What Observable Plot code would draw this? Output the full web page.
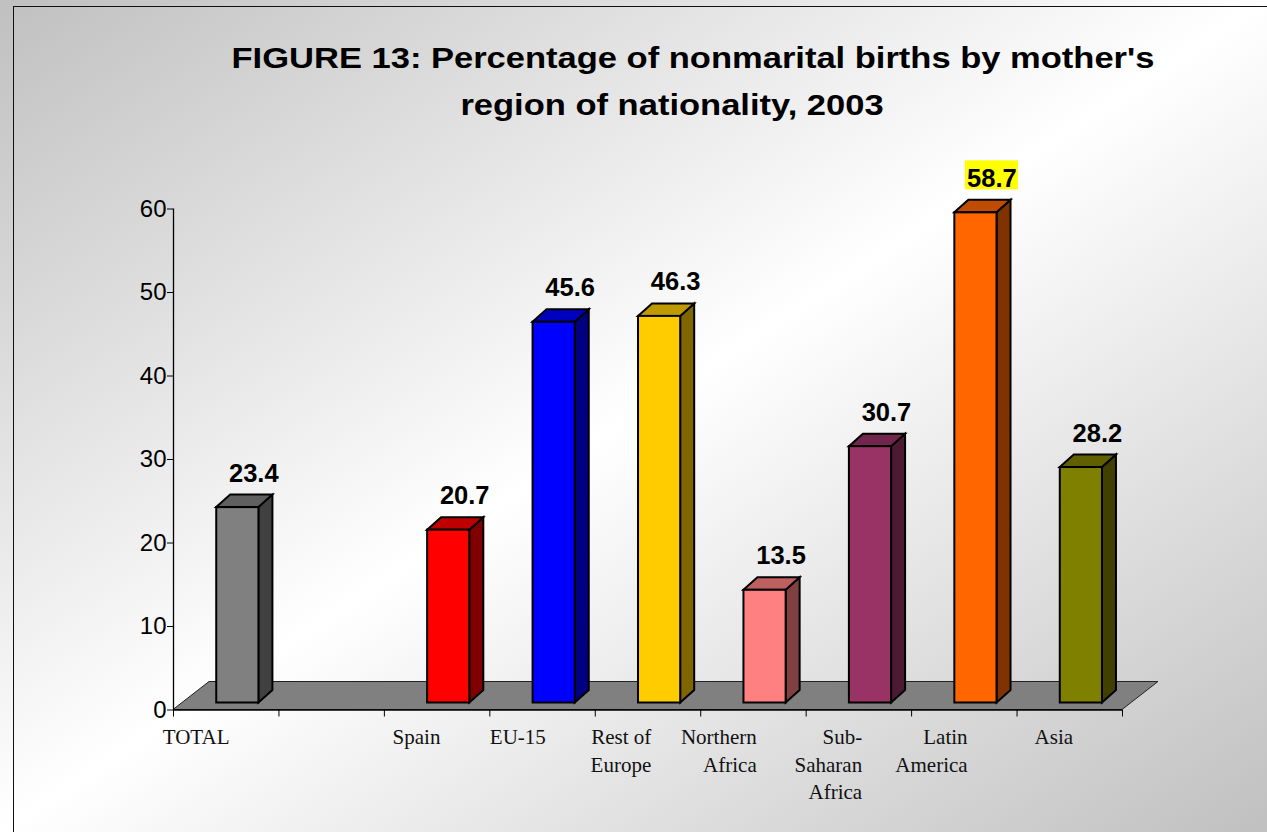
<!DOCTYPE html>
<html><head><meta charset="utf-8">
<script src="https://cdn.jsdelivr.net/npm/d3@7"></script>
<script src="https://cdn.jsdelivr.net/npm/@observablehq/plot@0.6"></script>
<style>
html,body{margin:0;padding:0;}
#wrap{position:relative;width:1267px;height:832px;overflow:hidden;background:linear-gradient(to bottom right,#c0c0c0 0%,#ffffff 50%,#c0c0c0 100%);}
#frame{position:absolute;left:13px;top:6px;width:1270px;height:840px;border:1.5px solid #111;box-sizing:border-box;}
.title{position:absolute;font-family:"Liberation Sans",Arial,sans-serif;font-weight:bold;font-size:29px;line-height:29px;white-space:nowrap;color:#000;transform-origin:50% 50%;transform:translateX(-50%) scaleX(1.19);}
#chart{position:absolute;left:0;top:0;}
</style></head><body>
<div id="wrap">
  <div id="frame"></div>
  <div class="title" id="t1" style="left:693px;top:43.5px"></div>
  <div class="title" id="t2" style="left:672px;top:91px"></div>
  <div id="chart"></div>
</div>
<script>
// ---- data ----
const titleLines = ["FIGURE 13: Percentage of nonmarital births by mother's", "region of nationality, 2003"];
const categories = ["TOTAL", "", "Spain", "EU-15", "Rest of\nEurope", "Northern\nAfrica", "Sub-\nSaharan\nAfrica", "Latin\nAmerica", "Asia"];
const values = [23.4, null, 20.7, 45.6, 46.3, 13.5, 30.7, 58.7, 28.2];
const barColors = ["#808080", null, "#ff0000", "#0000ff", "#ffcc00", "#ff8080", "#993366", "#ff6600", "#808000"];
const yTicks = [0, 10, 20, 30, 40, 50, 60];
const highlighted = ["Latin\nAmerica"];

document.getElementById("t1").textContent = titleLines[0];
document.getElementById("t2").textContent = titleLines[1];

const rows = categories.map((label, i) => ({i, label, value: values[i], color: barColors[i]}));
const bars = rows.filter(d => d.value != null);

// ---- 3D styling constants ----
const FACE_L = 0.41, FACE_R = 0.81; // front face within each category slot
const LIFT = 7;                      // px, bars stand slightly back on the floor
const DEPTH = [14, -12.5];           // px, bar depth projection
const FLOOR = [36, -28];             // px, floor depth projection
const LABEL_DX = 16, LABEL_DY = -33;
const shade = (c, k) => d3.interpolateRgb(c, "#000")(k);
const fmt = d3.format(".1f");

function floorMark(index, {x, y}) {
  const x0 = x(0), x1 = x(categories.length), y0 = y(0);
  const pts = [[x0, y0], [x1, y0], [x1 + FLOOR[0], y0 + FLOOR[1]], [x0 + FLOOR[0], y0 + FLOOR[1]]];
  const g = d3.create("svg:g");
  g.append("polygon").attr("points", pts.join(" "))
    .attr("fill", "#808080").attr("stroke", "#222").attr("stroke-width", 1);
  return g.node();
}

function sideTopMark(index, {x, y}) {
  const g = d3.create("svg:g");
  const [dx, dy] = DEPTH;
  for (const d of bars) {
    const xl = x(d.i + FACE_L), xr = x(d.i + FACE_R);
    const yb = y(0) - LIFT, yt = y(d.value) - LIFT;
    g.append("polygon")
      .attr("points", [[xr, yb], [xr + dx, yb + dy], [xr + dx, yt + dy], [xr, yt]].join(" "))
      .attr("fill", shade(d.color, 0.5)).attr("stroke", "#000").attr("stroke-width", 2);
    g.append("polygon")
      .attr("points", [[xl, yt], [xl + dx, yt + dy], [xr + dx, yt + dy], [xr, yt]].join(" "))
      .attr("fill", shade(d.color, 0.25)).attr("stroke", "#000").attr("stroke-width", 2);
  }
  return g.node();
}

function highlightMark(index, {x, y}) {
  const g = d3.create("svg:g");
  for (const d of bars.filter(b => highlighted.includes(b.label))) {
    const cx = x(d.i + (FACE_L + FACE_R) / 2) + LABEL_DX;
    const by = y(d.value) + LABEL_DY;
    g.append("rect").attr("x", cx - 26.5).attr("y", by - 26).attr("width", 53).attr("height", 29).attr("fill", "#ffff00");
  }
  return g.node();
}

const chart = Plot.plot({
  width: 1267,
  height: 832,
  marginLeft: 173,
  marginRight: 145,
  marginTop: 208.5,
  marginBottom: 122.5,
  style: {background: "transparent", overflow: "visible", color: "#000", fontFamily: "'Liberation Sans', Arial, sans-serif", fontSize: "24px"},
  x: {domain: [0, categories.length]},
  y: {domain: [0, 60]},
  color: {type: "identity"},
  marks: [
    floorMark,
    Plot.ruleY([0], {x1: 0, x2: categories.length, stroke: "#000", strokeWidth: 1.5}),
    Plot.axisX({ticks: d3.range(categories.length + 1), tickSize: 7, tickFormat: () => "", label: null, stroke: "#000"}),
    Plot.ruleX([0], {y1: 0, y2: 60, stroke: "#000", strokeWidth: 1.3}),
    Plot.axisY({ticks: yTicks, tickSize: 6, tickPadding: 1, fontSize: 24, label: null, stroke: "#000", fill: "#000"}),
    sideTopMark,
    Plot.rect(bars, {x1: d => d.i + FACE_L, x2: d => d.i + FACE_R, y1: 0, y2: "value", fill: "color", stroke: "#000", strokeWidth: 2, dy: -LIFT}),
    highlightMark,
    Plot.text(bars, {x: d => d.i + (FACE_L + FACE_R) / 2, y: "value", text: d => fmt(d.value), dx: LABEL_DX, dy: LABEL_DY, lineAnchor: "bottom", fontWeight: "bold", fontSize: 25.5, fill: "#000"}),
    Plot.text(rows.filter(d => d.label), {x: d => d.i, y: 0, text: "label", textAnchor: "end", dx: 56, dy: 14.6, lineAnchor: "top", lineHeight: 1.31, fontSize: 21, fontFamily: "'Liberation Serif', 'Times New Roman', serif", fill: "#111"})
  ]
});
document.getElementById("chart").appendChild(chart);
</script>
</body></html>
